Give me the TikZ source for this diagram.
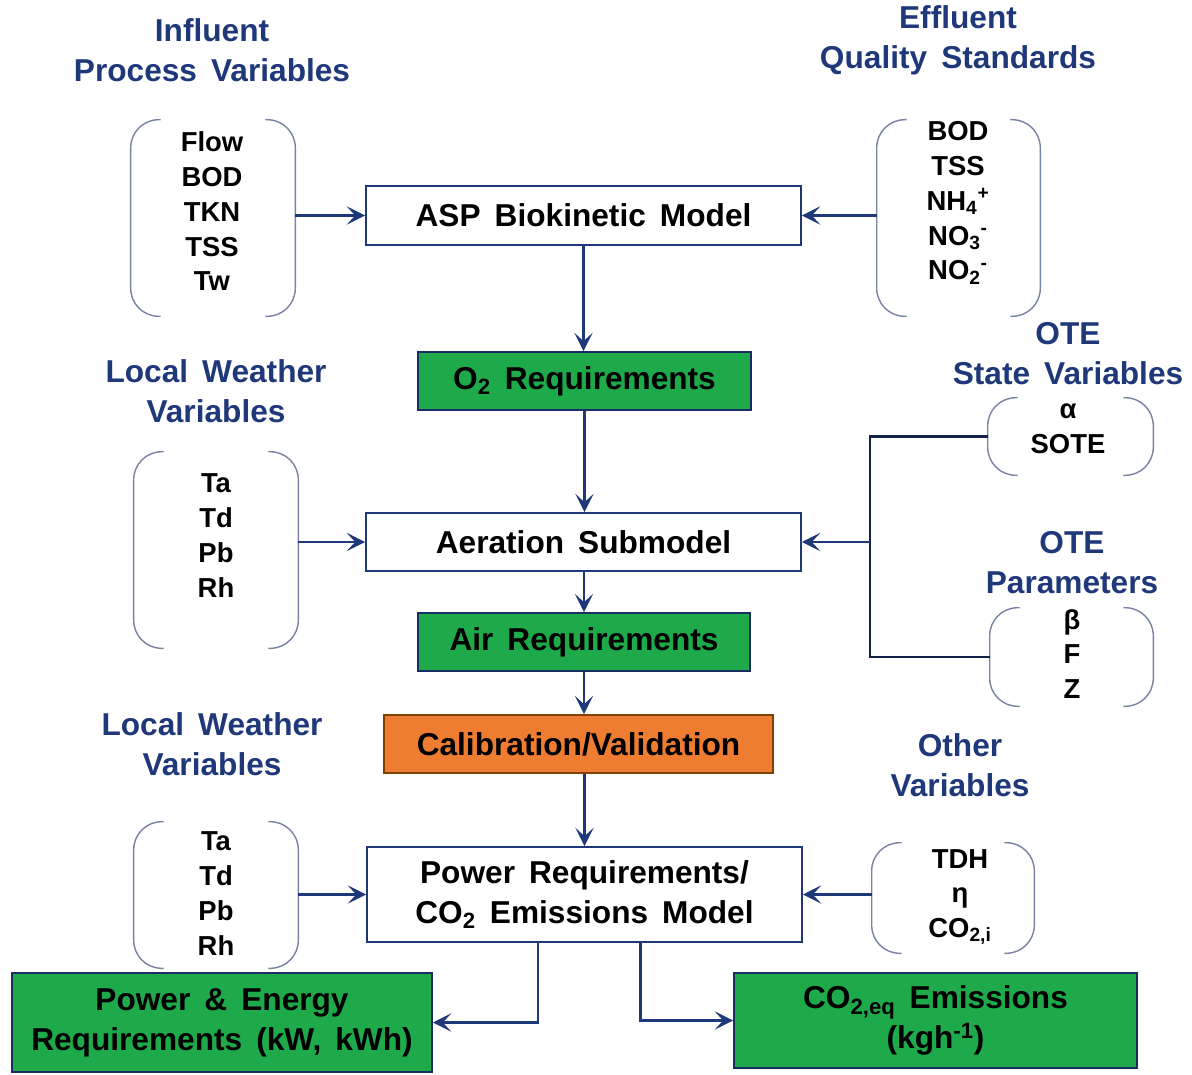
\documentclass[tikz,border=0pt]{standalone}
\usepackage{fontspec}
\setmainfont[WordSpace=1.6]{Liberation Sans}
\usetikzlibrary{arrows.meta, positioning, calc}

\definecolor{navy}{RGB}{31,56,122}
\definecolor{boxgreen}{RGB}{30,170,75}
\definecolor{calorange}{RGB}{238,125,49}
\definecolor{brkgray}{RGB}{120,130,162}

% round brackets around a variable list
\newcommand{\varbrackets}[1]{%
  \draw[brk] ([xshift=0.75cm]#1.north west) -- (#1.north west)
             -- (#1.south west) -- ([xshift=0.75cm]#1.south west);
  \draw[brk] ([xshift=-0.75cm]#1.north east) -- (#1.north east)
             -- (#1.south east) -- ([xshift=-0.75cm]#1.south east);}

\begin{document}
\begin{tikzpicture}[x=0.025cm, y=-0.025cm,
  model/.style={rectangle, draw=navy, line width=1.3pt, fill=white,
                align=center, inner sep=0pt,
                font=\fontsize{22.5}{28.5}\selectfont\bfseries},
  result/.style={model, fill=boxgreen, draw=navy!80!black},
  calib/.style={model, fill=calorange, draw=orange!50!black},
  group/.style={rectangle, inner sep=0pt},
  vars/.style={align=center, font=\fontsize{19.5}{24.7}\selectfont\bfseries},
  heading/.style={align=center, text=navy,
                  font=\fontsize{22.5}{28.5}\selectfont\bfseries},
  flow/.style={draw=navy, line width=2pt,
               -{Stealth[length=13pt, width=13pt, inset=6pt]}},
  link/.style={draw=navy!60!black, line width=1.8pt},
  brk/.style={draw=brkgray, line width=1pt, rounded corners=0.7cm}
]
  \useasboundingbox (0,0) rectangle (1192,1074);

  % headings
  \node[heading] (hinfl)  at (212,50)   {Influent\\Process Variables};
  \node[heading] (heffl)  at (958,40)   {Effluent\\Quality Standards};
  \node[heading] (hwx1)   at (216,391)  {Local Weather\\Variables};
  \node[heading] (hotes)  at (1068,354) {OTE\\State Variables};
  \node[heading] (hotep)  at (1072,563) {OTE\\Parameters};
  \node[heading] (hwx2)   at (212,744)  {Local Weather\\Variables};
  \node[heading] (hother) at (960,765)  {Other\\Variables};

  % model chain
  \node[model, minimum width=10.875cm, minimum height=1.475cm] (asp)
    at (583.5,215.5) {ASP Biokinetic Model};
  \node[result, minimum width=8.325cm, minimum height=1.45cm] (o2)
    at (584.5,381) {O\textsubscript{2} Requirements};
  \node[model, minimum width=10.875cm, minimum height=1.45cm] (aer)
    at (583.5,542) {Aeration Submodel};
  \node[result, minimum width=8.3cm, minimum height=1.45cm] (air)
    at (584,642) {Air Requirements};
  \node[calib, minimum width=9.725cm, minimum height=1.45cm] (cal)
    at (578.5,744) {Calibration/Validation};
  \node[model, minimum width=10.875cm, minimum height=2.375cm] (power)
    at (584.5,894.5) {Power Requirements/\\CO\textsubscript{2} Emissions Model};
  \node[result, minimum width=10.5cm, minimum height=2.475cm] (energy)
    at (222,1022.5) {Power \& Energy\\Requirements (kW, kWh)};
  \node[result, minimum width=10.075cm, minimum height=2.375cm] (co2eq)
    at (935.5,1020.5) {CO\textsubscript{2,eq} Emissions\\(kgh\textsuperscript{-1})};

  % variable groups
  \node[group, minimum width=4.1cm, minimum height=4.9cm] (inflbr) at (213,218) {};
  \node[vars] (infl) at (212,211.5) {Flow\\BOD\\TKN\\TSS\\Tw};
  \node[group, minimum width=4.075cm, minimum height=4.9cm] (efflbr) at (958.5,218) {};
  \node[vars] (effl) at (958,203)
    {BOD\\TSS\\NH\textsubscript{4}\textsuperscript{+}\\NO\textsubscript{3}\textsuperscript{-}\\NO\textsubscript{2}\textsuperscript{-}};
  \node[group, minimum width=4.125cm, minimum height=1.925cm] (otesbr) at (1070.5,436.5) {};
  \node[vars] (otes) at (1068,429) {α\\SOTE};
  \node[group, minimum width=4.1cm, minimum height=4.9cm] (wx1br) at (216,550) {};
  \node[vars] (wx1) at (216,535.5) {Ta\\Td\\Pb\\Rh};
  \node[group, minimum width=4.075cm, minimum height=2.45cm] (otepbr) at (1071.5,657) {};
  \node[vars] (otep) at (1072,654) {β\\F\\Z};
  \node[group, minimum width=4.1cm, minimum height=3.65cm] (wx2br) at (216,895) {};
  \node[vars] (wx2) at (216,893.5) {Ta\\Td\\Pb\\Rh};
  \node[group, minimum width=4.05cm, minimum height=2.75cm] (otherbr) at (953,898) {};
  \node[vars] (other) at (960,897) {TDH\\η\\CO\textsubscript{2,i}};

  \varbrackets{inflbr}
  \varbrackets{efflbr}
  \varbrackets{otesbr}
  \varbrackets{wx1br}
  \varbrackets{otepbr}
  \varbrackets{wx2br}
  \varbrackets{otherbr}

  % connectors
  \path[flow] (inflbr.east |- asp.west) -- (asp.west);
  \path[flow] (efflbr.west |- asp.east) -- (asp.east);
  \path[flow] (asp.south) -- (asp.south |- o2.north);
  \path[flow] (o2.south) -- (o2.south |- aer.north);
  \path[flow] (wx1br.east |- aer.west) -- (aer.west);
  \coordinate (junc) at (870,542);
  \path[link] (otesbr.west) -- (junc |- otesbr.west) -- (junc |- otepbr.west) -- (otepbr.west);
  \path[flow] (junc) -- (aer.east);
  \path[flow] (aer.south -| air.north) -- (air.north);
  \path[flow] (air.south) -- (air.south |- cal.north);
  \path[flow] (power.north |- cal.south) -- (power.north);
  \path[flow] (wx2br.east |- power.west) -- (power.west);
  \path[flow] (otherbr.west |- power.east) -- (power.east);
  \path[flow] ([xshift=-1.16cm]power.south) |- (energy.east);
  \path[flow] ([xshift=1.39cm]power.south) |- (co2eq.west);
\end{tikzpicture}
\end{document}
